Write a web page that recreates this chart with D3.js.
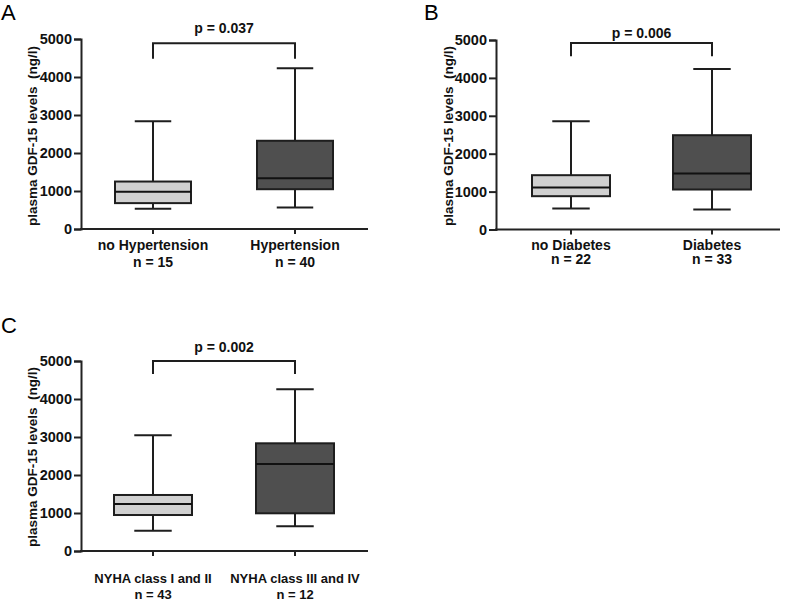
<!DOCTYPE html>
<html><head><meta charset="utf-8">
<script src="https://cdn.jsdelivr.net/npm/d3@7"></script>
<style>body{margin:0;background:#fff}svg{display:block}text{font-family:"Liberation Sans",Arial,sans-serif;white-space:pre}</style>
</head><body>
<svg id="c" width="787" height="601"></svg>
<script>
// ---- data ----
const yTicks = [0, 1000, 2000, 3000, 4000, 5000];
const yLabel = "plasma GDF-15 levels  (ng/l)";

const categoriesA = ["no Hypertension", "Hypertension"];
const countsA = ["n = 15", "n = 40"];
// [min, q1, median, q3, max]
const statsA = [[531, 681, 977, 1249, 2835], [568, 1047, 1335, 2322, 4233]];
const pA = "p = 0.037";
const bracketA = [4480, 4890];

const categoriesB = ["no Diabetes", "Diabetes"];
const countsB = ["n = 22", "n = 33"];
const statsB = [[554, 879, 1108, 1433, 2857], [528, 1055, 1478, 2488, 4237]];
const pB = "p = 0.006";
const bracketB = [4570, 4920];

const categoriesC = ["NYHA class I and II", "NYHA class III and IV"];
const countsC = ["n = 43", "n = 12"];
const statsC = [[534, 947, 1237, 1474, 3045], [650, 992, 2289, 2834, 4255]];
const pC = "p = 0.002";
const bracketC = [4660, 5000];

const panelLetters = ["A", "B", "C"];
const fills = ["#d0d0d0", "#4f4f4f"];

// ---- drawing ----
const svg = d3.select("#c");

function panel(cfg) {
  const g = svg.append("g");
  const y = d3.scaleLinear().domain([0, 5000]).range([cfg.y0, cfg.y1]);
  const x = d3.scalePoint().domain(cfg.cats).range(cfg.centers);

  g.append("text").attr("x", cfg.letterX).attr("y", cfg.letterY)
    .attr("font-size", 22).attr("fill", "#000").text(cfg.letter);

  const ya = g.append("g").attr("transform", `translate(${cfg.ax},0)`)
    .call(d3.axisLeft(y).tickValues(yTicks).tickSize(7).tickPadding(2).tickFormat(d3.format("d")));
  ya.select(".domain").attr("stroke", "#222").attr("stroke-width", 2);
  ya.selectAll(".tick line").attr("stroke", "#222").attr("stroke-width", 2);
  ya.selectAll(".tick text").attr("font-size", 14.5).attr("font-weight", "bold")
    .attr("font-family", "Liberation Sans, Arial, sans-serif").attr("fill", "#111");

  g.append("line").attr("x1", cfg.ax - 1).attr("x2", cfg.axEnd)
    .attr("y1", cfg.y0).attr("y2", cfg.y0).attr("stroke", "#222").attr("stroke-width", 2);
  cfg.cats.forEach((c, i) => {
    g.append("line").attr("x1", x(c)).attr("x2", x(c)).attr("y1", cfg.y0).attr("y2", cfg.y0 + 5)
      .attr("stroke", "#222").attr("stroke-width", 2);
    g.append("text").attr("x", x(c)).attr("y", cfg.lab1).attr("text-anchor", "middle")
      .attr("font-size", cfg.labSize).attr("font-weight", "bold").attr("fill", "#111").text(c);
    g.append("text").attr("x", x(c)).attr("y", cfg.lab2).attr("text-anchor", "middle")
      .attr("font-size", cfg.labSize).attr("font-weight", "bold").attr("fill", "#111").text(cfg.counts[i]);
  });

  g.append("text").attr("transform", `translate(${cfg.ylabX},${cfg.ylabY}) rotate(-90)`)
    .attr("text-anchor", "middle").attr("font-size", 13.5).attr("font-weight", "bold")
    .attr("fill", "#111").text(yLabel);

  cfg.stats.forEach((s, i) => {
    const cx = x(cfg.cats[i]);
    const w = cfg.boxW;
    const capW = w * 0.48;
    const st = "#1e1e1e";
    g.append("line").attr("x1", cx).attr("x2", cx).attr("y1", y(s[0])).attr("y2", y(s[1])).attr("stroke", st).attr("stroke-width", 2);
    g.append("line").attr("x1", cx).attr("x2", cx).attr("y1", y(s[3])).attr("y2", y(s[4])).attr("stroke", st).attr("stroke-width", 2);
    g.append("line").attr("x1", cx - capW / 2).attr("x2", cx + capW / 2).attr("y1", y(s[0])).attr("y2", y(s[0])).attr("stroke", st).attr("stroke-width", 2);
    g.append("line").attr("x1", cx - capW / 2).attr("x2", cx + capW / 2).attr("y1", y(s[4])).attr("y2", y(s[4])).attr("stroke", st).attr("stroke-width", 2);
    g.append("rect").attr("x", cx - w / 2).attr("width", w)
      .attr("y", y(s[3])).attr("height", y(s[1]) - y(s[3]))
      .attr("fill", fills[i]).attr("stroke", st).attr("stroke-width", 2);
    g.append("line").attr("x1", cx - w / 2).attr("x2", cx + w / 2).attr("y1", y(s[2])).attr("y2", y(s[2])).attr("stroke", "#111").attr("stroke-width", 2);
  });

  const xa = x(cfg.cats[0]), xb = x(cfg.cats[1]);
  g.append("path").attr("d", `M${xa},${y(cfg.bracket[0])}V${y(cfg.bracket[1])}H${xb}V${y(cfg.bracket[0])}`)
    .attr("fill", "none").attr("stroke", "#1e1e1e").attr("stroke-width", 2);
  g.append("text").attr("x", (xa + xb) / 2).attr("y", y(cfg.bracket[1]) - cfg.pGap)
    .attr("text-anchor", "middle").attr("font-size", 14).attr("font-weight", "bold").attr("fill", "#111").text(cfg.p);
}

panel({ letter: panelLetters[0], letterX: 1, letterY: 20, cats: categoriesA, counts: countsA, stats: statsA,
  p: pA, bracket: bracketA, pGap: 10, ax: 81, axEnd: 368, y0: 229, y1: 39, centers: [153, 295], boxW: 76,
  lab1: 250, lab2: 267, labSize: 14, ylabX: 37, ylabY: 136 });
panel({ letter: panelLetters[1], letterX: 424, letterY: 20, cats: categoriesB, counts: countsB, stats: statsB,
  p: pB, bracket: bracketB, pGap: 5, ax: 496, axEnd: 780, y0: 229.5, y1: 40, centers: [571, 712], boxW: 78,
  lab1: 249.5, lab2: 264, labSize: 14, ylabX: 453, ylabY: 136 });
panel({ letter: panelLetters[2], letterX: 1, letterY: 333, cats: categoriesC, counts: countsC, stats: statsC,
  p: pC, bracket: bracketC, pGap: 9, ax: 81, axEnd: 368, y0: 551, y1: 361, centers: [153, 295], boxW: 78,
  lab1: 582.5, lab2: 598.5, labSize: 13, ylabX: 37, ylabY: 457 });
</script>
</body></html>
